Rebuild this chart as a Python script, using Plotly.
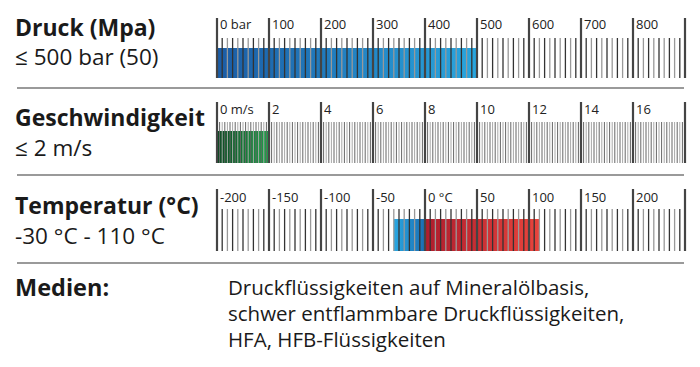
import numpy as np
import plotly.graph_objects as go

W, H = 700, 367
FONT = "Open Sans"

# ---------------- data ----------------
panel_titles = ["Druck (Mpa)", "Geschwindigkeit", "Temperatur (°C)"]
panel_subtitles = ["≤ 500 bar (50)", "≤ 2 m/s", "-30 °C - 110 °C"]

press_range = [0, 900]
press_major = [0, 100, 200, 300, 400, 500, 600, 700, 800, 900]
press_labels = ["0 bar", "100", "200", "300", "400", "500", "600", "700", "800", ""]
press_minor_step = 10
press_bar = [(0, 500, "#1b5ca5", "#29a6de")]

vel_range = [0, 18]
vel_major = [0, 2, 4, 6, 8, 10, 12, 14, 16, 18]
vel_labels = ["0 m/s", "2", "4", "6", "8", "10", "12", "14", "16", ""]
vel_minor_step = 0.1
vel_bar = [(0, 2, "#0c4a22", "#1fa24a")]

temp_range = [-200, 250]
temp_major = [-200, -150, -100, -50, 0, 50, 100, 150, 200, 250]
temp_labels = ["-200", "-150", "-100", "-50", "0 °C", "50", "100", "150", "200", ""]
temp_minor_step = 5
temp_bar = [(-30, 0, "#2aa8e2", "#1a6db2"), (0, 110, "#ae1d2d", "#e8443c")]

medien_title = "Medien:"
medien_lines = ["Druckflüssigkeiten auf Mineralölbasis,",
                "schwer entflammbare Druckflüssigkeiten,",
                "HFA, HFB-Flüssigkeiten"]

# ---------------- layout geometry (pixels) ----------------
x_left_px, x_right_px = 217, 685
panels = [
    dict(rng=press_range, major=press_major, labels=press_labels, step=press_minor_step,
         bars=press_bar, base=78, major_h=60, minor_h=40, bar_h=30,
         minor_cols=("#999999", "#333333"), minor_w=1.3),
    dict(rng=vel_range, major=vel_major, labels=vel_labels, step=vel_minor_step,
         bars=vel_bar, base=163, major_h=61, minor_h=41, bar_h=32,
         minor_cols=("#a8a8a8", "#666666"), minor_w=1.0),
    dict(rng=temp_range, major=temp_major, labels=temp_labels, step=temp_minor_step,
         bars=temp_bar, base=251, major_h=62, minor_h=42, bar_h=32,
         minor_cols=("#999999", "#333333"), minor_w=1.3),
]

fig = go.Figure()
layout_axes = {}
annotations = []
PADX = 3  # px padding so edge ticks are not clipped
PADY_TOP, PADY_BOT = 4, 2

for i, p in enumerate(panels):
    idx = "" if i == 0 else str(i + 1)
    xa, ya = "x" + idx, "y" + idx
    lo, hi = p["rng"]
    upx = (x_right_px - x_left_px) / (hi - lo)
    xr = [lo - PADX / upx, hi + PADX / upx]
    dom_x = [(x_left_px - PADX) / W, (x_right_px + PADX) / W]
    yr = [-PADY_BOT, p["major_h"] + PADY_TOP]
    top_px = p["base"] - p["major_h"] - PADY_TOP
    bot_px = p["base"] + PADY_BOT
    dom_y = [1 - bot_px / H, 1 - top_px / H]
    common = dict(showgrid=False, zeroline=False, showticklabels=False, ticks="",
                  showline=False, fixedrange=True)
    layout_axes["xaxis" + idx] = dict(range=xr, domain=dom_x, anchor=ya, **common)
    layout_axes["yaxis" + idx] = dict(range=yr, domain=dom_y, anchor=xa, **common)

    # bars with horizontal gradient
    for (b0, b1, c0, c1) in p["bars"]:
        fig.add_trace(go.Scatter(
            x=[b0, b1, b1, b0, b0], y=[0, 0, p["bar_h"], p["bar_h"], 0],
            xaxis=xa, yaxis=ya, mode="lines", line=dict(width=0),
            fill="toself",
            fillgradient=dict(type="horizontal", colorscale=[[0, c0], [1, c1]]),
            hoverinfo="skip", showlegend=False))

    # minor graduations
    n = int(round((hi - lo) / p["step"]))
    vals = lo + np.arange(n + 1) * p["step"]
    major_set = set(np.round(p["major"], 6))
    for parity in (0, 1):
        xs, ys = [], []
        for k, v in enumerate(vals):
            if round(v, 6) in major_set or k % 2 != parity:
                continue
            xs += [v, v, None]
            ys += [0, p["minor_h"], None]
        fig.add_trace(go.Scatter(x=xs, y=ys, xaxis=xa, yaxis=ya, mode="lines",
                                 line=dict(color=p["minor_cols"][parity], width=p["minor_w"]),
                                 hoverinfo="skip", showlegend=False))
    # major graduations
    xs, ys = [], []
    for v in p["major"]:
        xs += [v, v, None]
        ys += [0, p["major_h"], None]
    fig.add_trace(go.Scatter(x=xs, y=ys, xaxis=xa, yaxis=ya, mode="lines",
                             line=dict(color="#444444", width=2.2),
                             hoverinfo="skip", showlegend=False))
    # tick labels
    for v, lab in zip(p["major"], p["labels"]):
        if not lab:
            continue
        annotations.append(dict(x=v, y=54, xref=xa, yref=ya, text=lab, showarrow=False,
                                xanchor="left", yanchor="middle", xshift=1,
                                font=dict(family=FONT, size=13, color="#222222")))

# left titles
title_y = [27, 117, 205]
sub_y = [56, 147, 236]
for t, s, ty, sy in zip(panel_titles, panel_subtitles, title_y, sub_y):
    annotations.append(dict(x=13 / W, y=1 - ty / H, xref="paper", yref="paper", text="<b>" + t + "</b>",
                            showarrow=False, xanchor="left", yanchor="middle",
                            font=dict(family=FONT, size=23, color="#1a1a1a")))
    annotations.append(dict(x=13 / W, y=1 - sy / H, xref="paper", yref="paper", text=s,
                            showarrow=False, xanchor="left", yanchor="middle",
                            font=dict(family=FONT, size=22.5, color="#1a1a1a")))

annotations.append(dict(x=13 / W, y=1 - 287 / H, xref="paper", yref="paper",
                        text="<b>" + medien_title + "</b>", showarrow=False,
                        xanchor="left", yanchor="middle",
                        font=dict(family=FONT, size=23.5, color="#1a1a1a")))
for k, line in enumerate(medien_lines):
    annotations.append(dict(x=226 / W, y=1 - (287 + 26 * k) / H, xref="paper", yref="paper",
                            text=line, showarrow=False, xanchor="left", yanchor="middle",
                            font=dict(family=FONT, size=20.5, color="#1a1a1a")))

# separators
shapes = []
for ypx in [88, 175, 263]:
    shapes.append(dict(type="line", xref="paper", yref="paper", x0=17 / W, x1=684 / W,
                       y0=1 - ypx / H, y1=1 - ypx / H, line=dict(color="#9a9a9a", width=2)))

fig.update_layout(width=W, height=H, margin=dict(l=0, r=0, t=0, b=0),
                  paper_bgcolor="white", plot_bgcolor="rgba(0,0,0,0)",
                  annotations=annotations, shapes=shapes, showlegend=False,
                  **layout_axes)
fig.write_html("out.html", config={"displayModeBar": False},
               post_script="document.body.style.margin='0';document.body.style.padding='0';")
